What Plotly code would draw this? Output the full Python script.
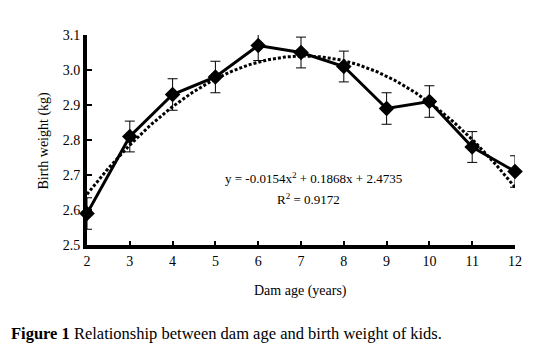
import numpy as np
import plotly.graph_objects as go

dam_age = [2, 3, 4, 5, 6, 7, 8, 9, 10, 11, 12]
birth_weight = [2.59, 2.81, 2.93, 2.98, 3.07, 3.05, 3.01, 2.89, 2.91, 2.78, 2.71]
error = [0.045, 0.044, 0.045, 0.045, 0.043, 0.044, 0.044, 0.045, 0.045, 0.044, 0.045]
trend_coef = [-0.0154, 0.1868, 2.4735]  # quadratic trend, x = point index (1..11)
r_squared = 0.9172
y_ticks = [2.5, 2.6, 2.7, 2.8, 2.9, 3.0, 3.1]
x_ticks = dam_age

# trendline evaluated along the x range (index = age - 1)
xs = np.linspace(dam_age[0], dam_age[-1], 200)
idx = xs - dam_age[0] + 1
trend = np.polyval(trend_coef, idx)

serif = "Liberation Serif, Times New Roman, serif"

W, H = 534, 349
L, R, T, B = 87, 14, 35, 104
pw, ph = W - L - R, H - T - B


def px(xpix):
    return (xpix - L) / pw


def py(ypix):
    return (T + ph - ypix) / ph


def label(xpix, ypix, text, size, angle=0, xanchor="center"):
    fig.add_annotation(x=px(xpix), y=py(ypix), xref="paper", yref="paper",
                       xanchor=xanchor, yanchor="middle", text=text, showarrow=False,
                       textangle=angle, font=dict(family=serif, size=size, color="black"))


fig = go.Figure()
fig.add_trace(go.Scatter(
    x=xs, y=trend, mode="lines",
    line=dict(color="black", width=3, dash="3px,2px"),
    hoverinfo="skip", cliponaxis=False, showlegend=False))
fig.add_trace(go.Scatter(
    x=dam_age, y=birth_weight, mode="lines+markers",
    line=dict(color="black", width=3),
    marker=dict(symbol="diamond", size=12, color="black"),
    error_y=dict(type="data", array=error, visible=True, color="black",
                 thickness=1, width=5),
    cliponaxis=False, showlegend=False))

eq = f"y = {trend_coef[0]}x<sup>2</sup> + {trend_coef[1]}x + {trend_coef[2]}"
label(316, 178, eq, 13)
label(311, 199, f"R<sup>2</sup> = {r_squared}", 13)

# axis titles
label(303, 291, "Dam age (years)", 14)
label(44, 140, "Birth weight (kg)", 14, angle=-90)

label(8, 333, "<b>Figure 1</b> Relationship between dam age and birth weight of kids.",
      16.5, xanchor="left")

fig.update_layout(
    width=W, height=H,
    margin=dict(l=L, r=R, t=T, b=B),
    paper_bgcolor="white", plot_bgcolor="white",
    font=dict(family=serif, size=14, color="black"),
    xaxis=dict(range=[2, 12], tickvals=x_ticks, showline=True, linecolor="black",
               linewidth=4, ticks="inside", ticklen=4, tickwidth=2, tickcolor="black",
               showgrid=False, zeroline=False, tickfont=dict(family=serif, size=14)),
    yaxis=dict(range=[2.5, 3.1], tickvals=y_ticks, tickformat=".1f", showline=True,
               linecolor="black", linewidth=4, ticks="inside", ticklen=5, tickwidth=2,
               tickcolor="black", showgrid=False, zeroline=False,
               tickfont=dict(family=serif, size=14)),
)

fig.write_html("out.html", config={"displayModeBar": False},
               post_script="document.body.style.margin='0';document.body.style.overflow='hidden';")
